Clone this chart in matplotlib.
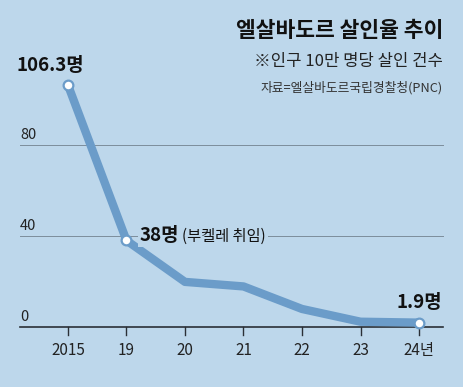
import matplotlib.pyplot as plt

plt.rcParams['font.family'] = ['Noto Sans CJK KR', 'DejaVu Sans']

# data
years = ["2015", "19", "20", "21", "22", "23", "24년"]
rates = [106.3, 38.0, 19.8, 17.8, 7.9, 2.3, 1.9]
grid_vals = [40, 80]

bg = "#bdd7eb"
line_c = "#6b9cc9"

fig = plt.figure(figsize=(4.64, 3.87), dpi=100, facecolor=bg)
ax = fig.add_axes([0, 0, 1, 1])
ax.set_facecolor(bg)
ax.set_xlim(-1.162, 6.769)
ax.set_ylim(-26.4, 143.7)
ax.axis("off")

x = list(range(len(years)))

# gridlines + y labels
for g in grid_vals:
    ax.plot([-0.82, 6.41], [g, g], color="#7d8d9b", lw=0.7, zorder=1)
for g in [0] + grid_vals:
    ax.text(-0.82, g + 1.5, str(g), fontsize=10.5, color="#222222",
            ha="left", va="bottom")

# baseline and ticks
ax.plot([-0.82, 6.41], [0, 0], color="#2a2f36", lw=1.2, zorder=2)
for xi, lab in zip(x, years):
    ax.plot([xi, xi], [0, -3.6], color="#2a2f36", lw=1.0, zorder=2)
    ax.text(xi, -6.5, lab, fontsize=11, color="#222222", ha="center", va="top")

# line
ax.plot(x, rates, color=line_c, lw=6, solid_capstyle="round",
        solid_joinstyle="round", zorder=3)
for i in [0, 1, 6]:
    ax.plot(x[i], rates[i], marker="o", ms=7, mfc="white", mec=line_c,
            mew=1.6, zorder=4)

# annotations
ax.text(x[0] - 0.3, rates[0] + 4.5, "106.3명", fontsize=13.5, fontweight="bold",
        ha="center", va="bottom", color="#111111")
t = ax.text(x[1] + 0.22, rates[1] + 2.0, "38명", fontsize=13.5, fontweight="bold",
            ha="left", va="center", color="#111111", zorder=5,
            bbox=dict(facecolor=bg, edgecolor="none", pad=1))
fig.canvas.draw()
bb = t.get_window_extent()
x_right = ax.transData.inverted().transform((bb.x1 + 3, 0))[0]
ax.text(x_right, rates[1] + 2.0, "(부켈레 취임)", fontsize=11,
        ha="left", va="center", color="#111111", zorder=5,
        bbox=dict(facecolor=bg, edgecolor="none", pad=2))
ax.text(x[6], rates[6] + 4.5, "1.9명", fontsize=13.5, fontweight="bold",
        ha="center", va="bottom", color="#111111")

# titles
fig.text(0.955, 0.922, "엘살바도르 살인율 추이", fontsize=15.5, fontweight="bold",
         ha="right", va="center", color="#111111")
fig.text(0.955, 0.84, "※인구 10만 명당 살인 건수", fontsize=12,
         ha="right", va="center", color="#222222")
fig.text(0.955, 0.772, "자료=엘살바도르국립경찰청(PNC)", fontsize=9.2,
         ha="right", va="center", color="#333333")

fig.savefig("out.png", dpi=100, facecolor=bg)
